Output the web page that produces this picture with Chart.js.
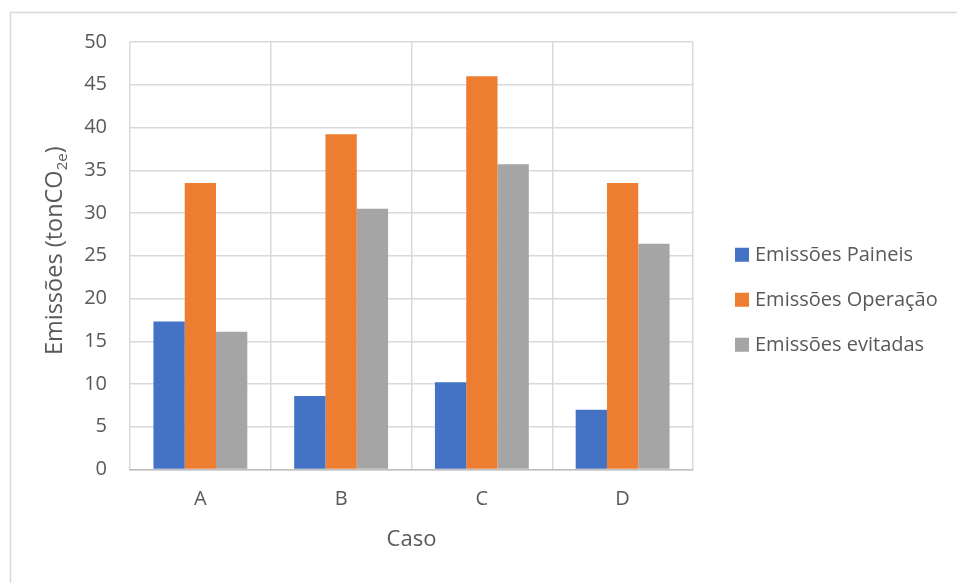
<!DOCTYPE html>
<html lang="pt">
<head>
<meta charset="utf-8">
<title>Emissões por caso</title>
<script src="https://cdn.jsdelivr.net/npm/chart.js@4/dist/chart.umd.min.js"></script>
<style>
  html, body { margin: 0; padding: 0; background: #fff; overflow: hidden; }
  canvas { display: block; }
</style>
</head>
<body>
<canvas id="chart" width="957" height="583"></canvas>
<script>
// Categories and series (tonCO2e)
const casos = ['A', 'B', 'C', 'D'];
const emissoesPaineis = [17.3, 8.6, 10.2, 7.0];
const emissoesOperacao = [33.5, 39.2, 46.0, 33.5];
const emissoesEvitadas = [16.1, 30.5, 35.7, 26.4];
const seriesNames = ['Emissões Paineis', 'Emissões Operação', 'Emissões evitadas'];
const seriesColors = ['#4472C4', '#ED7D31', '#A5A5A5'];

const FONT = "'Open Sans', 'Liberation Sans', sans-serif";
const TEXT = '#595959';
const GRID = '#d9d9d9';

// Outer chart frame (left and top edges fall inside the canvas)
const framePlugin = {
  id: 'frame',
  beforeDraw(chart) {
    const { ctx, width, height } = chart;
    ctx.save();
    ctx.strokeStyle = GRID;
    ctx.lineWidth = 1.5;
    ctx.beginPath();
    ctx.moveTo(10.5, height);
    ctx.lineTo(10.5, 12.5);
    ctx.lineTo(width, 12.5);
    ctx.stroke();
    ctx.restore();
  }
};

// Y-axis title with the CO2e subscript, drawn left of the value axis
const yTitlePlugin = {
  id: 'yTitle',
  afterDraw(chart) {
    const { ctx, chartArea } = chart;
    const main = 'Emissões (tonCO';
    const sub = '2e';
    const close = ')';
    const size = 23.5, subSize = 15;
    ctx.save();
    ctx.fillStyle = TEXT;
    ctx.textBaseline = 'alphabetic';
    ctx.textAlign = 'left';
    ctx.font = `${size}px ${FONT}`;
    const w1 = ctx.measureText(main).width;
    const w3 = ctx.measureText(close).width;
    ctx.font = `${subSize}px ${FONT}`;
    const w2 = ctx.measureText(sub).width;
    const total = w1 + w2 + w3;
    const cy = (chartArea.top + chartArea.bottom) / 2 - 5;
    ctx.translate(62, cy);
    ctx.rotate(-Math.PI / 2);
    let x = -total / 2;
    ctx.font = `${size}px ${FONT}`;
    ctx.fillText(main, x, 0);
    x += w1;
    ctx.font = `${subSize}px ${FONT}`;
    ctx.fillText(sub, x, 5);
    x += w2;
    ctx.font = `${size}px ${FONT}`;
    ctx.fillText(close, x, 0);
    ctx.restore();
  }
};

// Legend stacked to the right of the plot area
const sideLegendPlugin = {
  id: 'sideLegend',
  afterDraw(chart) {
    const { ctx, chartArea } = chart;
    const box = 14, gap = 42, textGap = 6, step = 45;
    const n = chart.data.datasets.length;
    const midY = (chartArea.top + chartArea.bottom) / 2 + 44;
    ctx.save();
    ctx.font = `20px ${FONT}`;
    ctx.textBaseline = 'middle';
    ctx.textAlign = 'left';
    chart.data.datasets.forEach((ds, i) => {
      const cy = midY + (i - (n - 1) / 2) * step;
      const x = chartArea.right + gap;
      ctx.fillStyle = ds.backgroundColor;
      ctx.fillRect(x, cy - box / 2, box, box);
      ctx.fillStyle = TEXT;
      ctx.fillText(ds.label, x + box + textGap, cy + 1);
    });
    ctx.restore();
  }
};

const datasets = [emissoesPaineis, emissoesOperacao, emissoesEvitadas].map((values, i) => ({
  label: seriesNames[i],
  data: values,
  backgroundColor: seriesColors[i],
  borderWidth: 0,
  categoryPercentage: 0.667,
  barPercentage: 1.0
}));

new Chart(document.getElementById('chart'), {
  type: 'bar',
  data: { labels: casos, datasets },
  options: {
    responsive: false,
    animation: false,
    layout: { padding: { top: 42, left: 0, right: 264, bottom: 0 } },
    plugins: {
      legend: { display: false },
      tooltip: { enabled: false }
    },
    scales: {
      x: {
        grid: { color: GRID, lineWidth: 1.5, drawTicks: false, offset: true },
        border: { color: '#bfbfbf', width: 1.5 },
        ticks: { color: TEXT, font: { family: FONT, size: 20 }, padding: 18 },
        title: {
          display: true, text: 'Caso', color: TEXT,
          font: { family: FONT, size: 22 }, padding: { top: 0, bottom: 30 }
        },
        afterFit(scale) { scale.height = 113.5; }
      },
      y: {
        min: 0, max: 50,
        grid: { color: GRID, lineWidth: 1.5, drawTicks: false },
        border: { display: false },
        ticks: { stepSize: 5, color: TEXT, font: { family: FONT, size: 20 }, padding: 23 },
        afterFit(scale) { scale.width = 130; }
      }
    }
  },
  plugins: [framePlugin, yTitlePlugin, sideLegendPlugin]
});
</script>
</body>
</html>
